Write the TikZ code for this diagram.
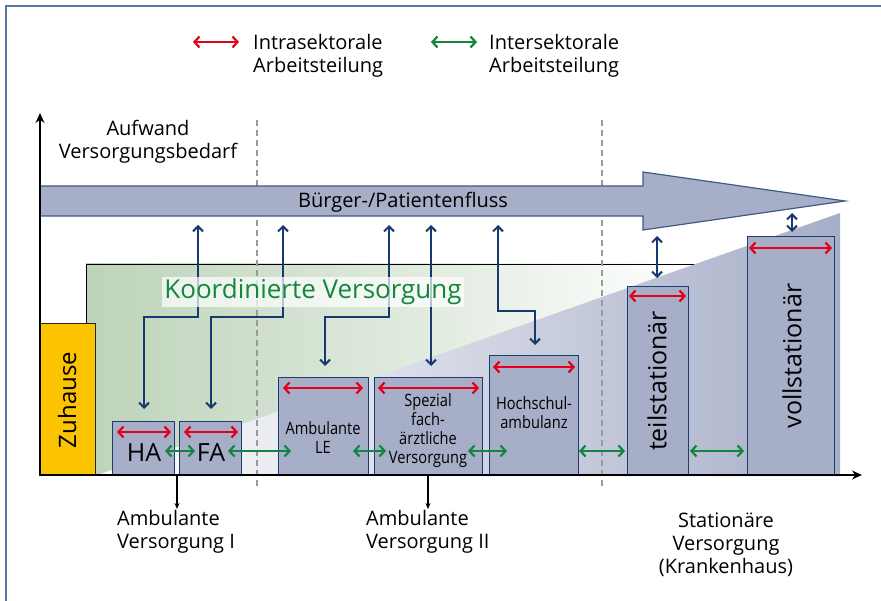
\documentclass[tikz,border=0pt]{standalone}
\usepackage{fontspec}
\setmainfont{Open Sans}
\usepackage{graphicx}
\usetikzlibrary{arrows.meta,calc}
\definecolor{boxfill}{HTML}{A7AEC8}
\definecolor{boxline}{HTML}{1F3C6E}
\definecolor{navy}{HTML}{173A6E}
\definecolor{redA}{HTML}{E2001A}
\definecolor{greenA}{HTML}{13853F}
\definecolor{koord}{HTML}{12883D}
\definecolor{zuh}{HTML}{FCC300}
\definecolor{framec}{HTML}{5A78A0}
\definecolor{greenbg}{HTML}{BDD3B9}
\definecolor{dashgrey}{HTML}{9A9A9A}
\newcommand{\cond}[1]{\scalebox{0.86}[1]{\fontsize{17}{19}\selectfont\begin{tabular}{@{}c@{}}#1\end{tabular}}}
\begin{document}
\begin{tikzpicture}[x=1pt,y=-1pt,
  font=\fontsize{20}{23}\selectfont,
  txt/.style={inner sep=0pt},
  sbox/.style={draw=boxline, fill=boxfill, line width=1pt, inner sep=0pt, anchor=north west},
  redarr/.style={draw=redA, line width=2.2pt, {Straight Barb[length=5pt,width=11pt]}-{Straight Barb[length=5pt,width=11pt]}},
  grnarr/.style={draw=greenA, line width=2.2pt, {Straight Barb[length=5pt,width=11pt]}-{Straight Barb[length=5pt,width=11pt]}},
  navyarr/.style={draw=navy, line width=2pt, {Straight Barb[length=5pt,width=10pt]}-{Straight Barb[length=5pt,width=10pt]}},
  dashv/.style={draw=dashgrey, line width=2.2pt, dash pattern=on 6pt off 4pt},
  axis/.style={draw=black, line width=1.3pt, -{Stealth[length=10pt,width=9pt]}},
  down/.style={draw=black, line width=1.2pt, -{Stealth[length=6pt,width=5pt]}}
]
\useasboundingbox (0,0) rectangle (881,601);
\fill[white] (0,0) rectangle (881,601);
\draw[framec, line width=1.5pt] (6,601) -- (6,6) -- (881,6);

% legend
\coordinate (r1) at (193,42); \coordinate (r2) at (239,42);
\draw[redarr] (r1) -- (r2);
\node[txt, anchor=west, align=left] (leg1) at (253,56) {Intrasektorale\\Arbeitsteilung};
\coordinate (g1) at (431,42); \coordinate (g2) at (477,42);
\draw[grnarr] (g1) -- (g2);
\node[txt, anchor=west, align=left] (leg2) at (489,56) {Intersektorale\\Arbeitsteilung};

% y-axis label
\node[txt, align=center] (aufw) at (148,142) {Aufwand\\Versorgungsbedarf};

% coordinated care area
\draw[left color=greenbg, right color=white, draw=black, line width=0.8pt] (86,264) rectangle (697,475);
\shade[left color=white, right color=boxfill] (95,476) -- (840,213) -- (840,476) -- cycle;

% blue connectors
\draw[navyarr] (198,225) -- (198,317) -- (144,317) -- (144,409);
\draw[navyarr] (283,225) -- (283,317) -- (211,317) -- (211,409);
\draw[navyarr] (389,225) -- (389,317) -- (325,317) -- (325,366);
\draw[navyarr] (431,225) -- (431,366);
\draw[navyarr] (498,225) -- (498,311) -- (535,311) -- (535,345);

% dashed separators
\draw[dashv] (257,120) -- (257,490);
\draw[dashv] (602,120) -- (602,490);

\node[fill=white, fill opacity=0.7, text opacity=1, text=koord, font=\fontsize{26}{29}\selectfont, inner xsep=2pt, inner ysep=0pt, minimum height=30pt] (koord) at (313,292) {Koordinierte Versorgung};

% home
\node[draw=black!85, fill=zuh, line width=1pt, minimum width=56pt, minimum height=152pt, anchor=north west] (zu) at (39,323) {};
\node[txt, rotate=90, font=\fontsize{24}{28}\selectfont] (zut) at (67,400) {Zuhause};

% boxes
\node[sbox, minimum width=62pt, minimum height=54pt] (ha) at (112,421) {};
\node[sbox, minimum width=62pt, minimum height=54pt] (fa) at (179,421) {};
\node[sbox, minimum width=90pt, minimum height=98pt] (le) at (278,377) {};
\node[sbox, minimum width=108pt, minimum height=98pt] (sp) at (374,377) {};
\node[sbox, minimum width=89pt, minimum height=120pt] (ho) at (489,355) {};
\node[sbox, minimum width=61pt, minimum height=189pt] (te) at (627,286) {};
\node[sbox, minimum width=87pt, minimum height=239pt] (vo) at (747,236) {};

\node[txt, font=\fontsize{25}{28}\selectfont] (hat) at (144,453) {HA};
\node[txt, font=\fontsize{25}{28}\selectfont] (fat) at (211,453) {FA};
\node[txt] (let) at (323,440) {\cond{Ambulante\\LE}};
\node[txt] (spt) at (428,431) {\cond{Spezial\\fach-\\ärztliche\\Versorgung}};
\node[txt] (hot) at (534,415) {\cond{Hochschul-\\ambulanz}};
\node[txt, rotate=90, font=\fontsize{25}{28}\selectfont] (tet) at (657,381) {teilstationär};
\node[txt, rotate=90, font=\fontsize{25}{28}\selectfont] (vot) at (792,356) {vollstationär};

% intrasectoral arrows
\draw[redarr] (117,432) -- (171,432);
\draw[redarr] (184,432) -- (238,432);
\draw[redarr] (283,388) -- (363,388);
\draw[redarr] (378,388) -- (479,388);
\draw[redarr] (493,367) -- (575,367);
\draw[redarr] (629,296) -- (686,296);
\draw[redarr] (749,248) -- (832,248);

% intersectoral arrows
\draw[grnarr] (165,451) -- (195,451);
\draw[grnarr] (228,451) -- (291,451);
\draw[grnarr] (353,451) -- (386,451);
\draw[grnarr] (468,451) -- (507,451);
\draw[grnarr] (579,451) -- (625,451);
\draw[grnarr] (690,451) -- (744,451);

% stationary connectors
\draw[navyarr] (657,236) -- (657,278);
\draw[navyarr] (792,213) -- (792,232);

% flow arrow
\draw[fill=boxfill, draw=boxline!85, line width=1.2pt] (40,186) -- (643,186) -- (643,172) -- (845,201) -- (643,230) -- (643,216) -- (40,216) -- cycle;
\node[txt] (flow) at (403,202) {Bürger-/Patientenfluss};

% axes
\coordinate (o) at (40,475);
\draw[axis] (o) -- (40,113);
\draw[axis] (o) -- (862,475);

% sector arrows and labels
\node[txt, anchor=west, align=left] (av1) at (117,532) {Ambulante\\Versorgung I};
\node[txt, anchor=west, align=left] (av2) at (366,532) {Ambulante\\Versorgung II};
\node[txt, align=center] (sv) at (726,545) {Stationäre\\Versorgung\\(Krankenhaus)};
\draw[down] (177,475) -- (177,509);
\draw[down] (428,475) -- (428,509);
\end{tikzpicture}
\end{document}
